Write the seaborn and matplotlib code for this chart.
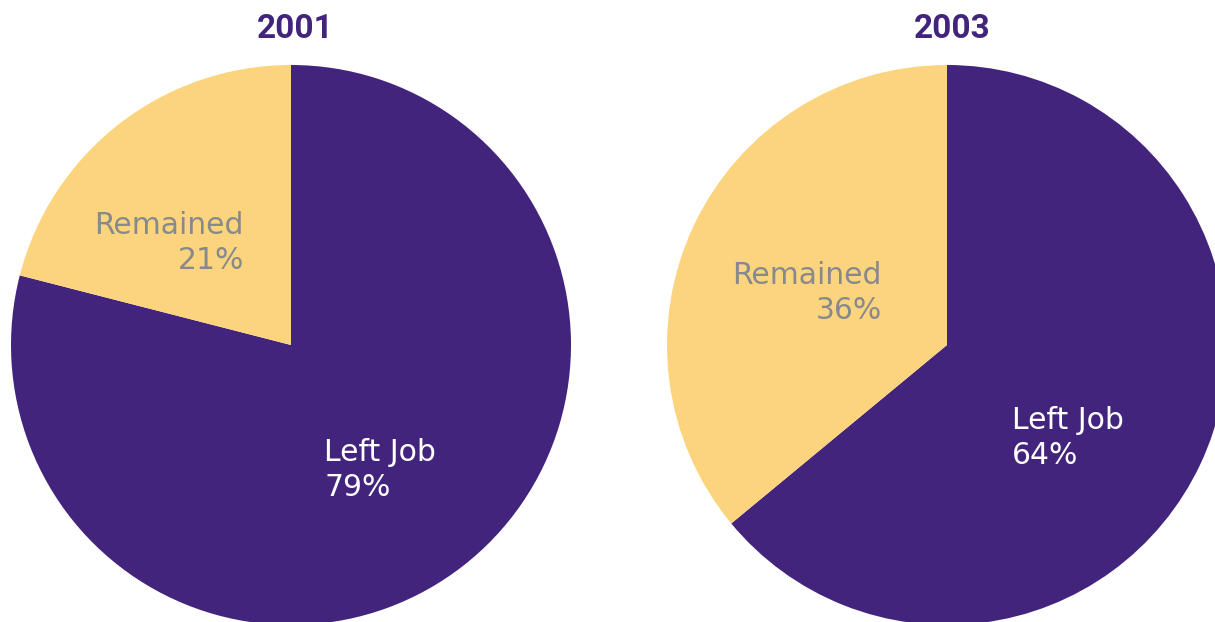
import matplotlib
matplotlib.use("Agg")
import matplotlib.pyplot as plt
import seaborn as sns

# Job outcome shares by survey year (percent)
categories = ["Left Job", "Remained"]
years = ["2001", "2003"]
left_job = [79, 64]
remained = [21, 36]

purple = "#43247D"
yellow = "#FCD47E"
gray = "#878A8C"

sns.set_theme(style="white", palette=[purple, yellow])
plt.rcParams["font.family"] = ["DejaVu Sans"]

W, H = 1215, 622
fig = plt.figure(figsize=(W / 100, H / 100), dpi=100)
fig.patch.set_facecolor("white")

# pie centres and radius in pixels
centres = [(291, 345), (947, 345)]
radius_px = 280

# label anchors in units of the pie radius: (remained x, remained baseline, left-job x, left-job baseline)
label_pos = [
    (-0.168, 0.396, 0.118, -0.414),
    (-0.232, 0.218, 0.232, -0.300),
]
line_gap = 0.125
title_x = [295, 952]

colors = sns.color_palette()
for i, year in enumerate(years):
    cx, cy = centres[i]
    left = (cx - radius_px) / W
    bottom = (H - cy - radius_px) / H
    ax = fig.add_axes([left, bottom, 2 * radius_px / W, 2 * radius_px / H])
    ax.pie([left_job[i], remained[i]], colors=colors, startangle=90,
           counterclock=False, radius=1.0,
           wedgeprops=dict(linewidth=0, edgecolor="none"))
    ax.set_xlim(-1, 1)
    ax.set_ylim(-1, 1)
    ax.set_aspect("equal")
    ax.set_axis_off()
    for a in ax.patches:
        a.set_clip_on(False)

    rx, ry, lx, ly = label_pos[i]
    ax.text(rx, ry, categories[1], ha="right", va="baseline",
            fontsize=21.5, color=gray)
    ax.text(rx, ry - line_gap, f"{remained[i]}%", ha="right", va="baseline",
            fontsize=21.5, color=gray)
    ax.text(lx, ly, categories[0], ha="left", va="baseline",
            fontsize=21.5, color="white")
    ax.text(lx, ly - line_gap, f"{left_job[i]}%", ha="left", va="baseline",
            fontsize=21.5, color="white")

    fig.text(title_x[i] / W, 1 - 38 / H, year, ha="center", va="baseline",
             fontsize=24, fontweight="bold", color=purple, family=["Roboto", "DejaVu Sans"])

fig.savefig("out.png", dpi=100, facecolor="white")
